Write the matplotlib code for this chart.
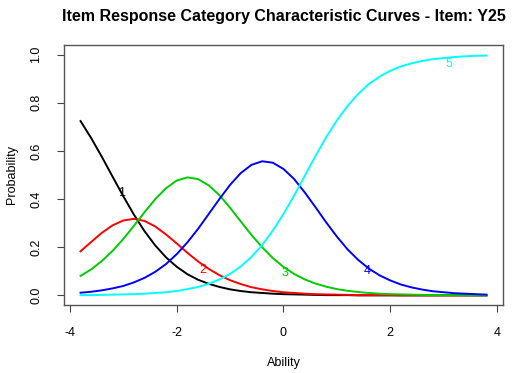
import numpy as np
import matplotlib.pyplot as plt

plt.rcParams['font.family'] = ['Liberation Sans', 'DejaVu Sans']
plt.rcParams['axes.unicode_minus'] = False

# ability grid (-3.8 .. 3.8, step 0.2)
ability = [-3.8, -3.6, -3.4, -3.2, -3.0, -2.8, -2.6, -2.4, -2.2, -2.0,
           -1.8, -1.6, -1.4, -1.2, -1.0, -0.8, -0.6, -0.4, -0.2, 0.0,
           0.2, 0.4, 0.6, 0.8, 1.0, 1.2, 1.4, 1.6, 1.8, 2.0,
           2.2, 2.4, 2.6, 2.8, 3.0, 3.2, 3.4, 3.6, 3.8]

cat1 = [0.724, 0.653, 0.575, 0.493, 0.412, 0.335, 0.266, 0.207, 0.158, 0.119,
        0.088, 0.065, 0.048, 0.035, 0.025, 0.018, 0.013, 0.010, 0.007, 0.005,
        0.004, 0.003, 0.002, 0.001, 0.001, 0.001, 0.000, 0.000, 0.000, 0.000,
        0.000, 0.000, 0.000, 0.000, 0.000, 0.000, 0.000, 0.000, 0.000]
cat2 = [0.183, 0.222, 0.260, 0.291, 0.311, 0.318, 0.309, 0.286, 0.253, 0.216,
        0.177, 0.141, 0.110, 0.084, 0.063, 0.047, 0.034, 0.025, 0.018, 0.013,
        0.010, 0.007, 0.005, 0.004, 0.003, 0.002, 0.001, 0.001, 0.001, 0.001,
        0.000, 0.000, 0.000, 0.000, 0.000, 0.000, 0.000, 0.000, 0.000]
cat3 = [0.081, 0.108, 0.143, 0.185, 0.234, 0.289, 0.346, 0.400, 0.445, 0.477,
        0.490, 0.483, 0.457, 0.416, 0.364, 0.307, 0.251, 0.200, 0.155, 0.118,
        0.089, 0.066, 0.049, 0.036, 0.026, 0.019, 0.014, 0.010, 0.007, 0.005,
        0.004, 0.003, 0.002, 0.001, 0.001, 0.001, 0.001, 0.000, 0.000]
cat4 = [0.011, 0.015, 0.021, 0.029, 0.039, 0.054, 0.073, 0.098, 0.130, 0.171,
        0.220, 0.276, 0.338, 0.400, 0.459, 0.508, 0.542, 0.557, 0.551, 0.525,
        0.483, 0.427, 0.366, 0.303, 0.244, 0.191, 0.147, 0.111, 0.083, 0.062,
        0.045, 0.033, 0.024, 0.017, 0.013, 0.009, 0.007, 0.005, 0.003]
cat5 = [0.001, 0.001, 0.002, 0.003, 0.004, 0.005, 0.007, 0.010, 0.013, 0.018,
        0.026, 0.035, 0.048, 0.066, 0.089, 0.120, 0.160, 0.209, 0.269, 0.338,
        0.415, 0.497, 0.579, 0.657, 0.727, 0.787, 0.837, 0.878, 0.909, 0.933,
        0.951, 0.964, 0.974, 0.981, 0.986, 0.990, 0.993, 0.995, 0.996]

curves = [cat1, cat2, cat3, cat4, cat5]
colors = ['black', '#ff0000', '#00cd00', '#0000ff', '#00ffff']
labels = ['1', '2', '3', '4', '5']
label_x = [-3.04, -1.52, 0.03, 1.56, 3.10]
label_y = [0.424, 0.104, 0.093, 0.100, 0.961]

fig = plt.figure(figsize=(5.12, 3.73), dpi=100)
ax = fig.add_axes([0.1256, 0.1823, 0.8562, 0.6971])

for vals, c in zip(curves, colors):
    ax.plot(ability, vals, color=c, lw=1.4, solid_joinstyle='round')
for lab, lx, ly, c in zip(labels, label_x, label_y, colors):
    ax.text(lx, ly, lab, color=c, fontsize=9, ha='center', va='center')

ax.set_xlim(-4.104, 4.104)
ax.set_ylim(-0.04, 1.04)
ax.set_xticks([-4, -2, 0, 2, 4])
ax.set_yticks([0.0, 0.2, 0.4, 0.6, 0.8, 1.0])
ax.set_yticklabels(['0.0', '0.2', '0.4', '0.6', '0.8', '1.0'], rotation=90, va='center')
ax.tick_params(length=5, width=0.8, color='#444444', labelsize=9)
ax.tick_params(axis='x', pad=11)
ax.tick_params(axis='y', pad=11)
for s in ax.spines.values():
    s.set_color('#555555')
    s.set_linewidth(1.0)
ax.set_xlabel('Ability', fontsize=9, labelpad=13)
ax.set_ylabel('Probability', fontsize=9, labelpad=9)
ax.set_title('Item Response Category Characteristic Curves - Item: Y25',
             fontsize=11.5, fontweight='bold', pad=17)

fig.savefig('out.png', dpi=100)
